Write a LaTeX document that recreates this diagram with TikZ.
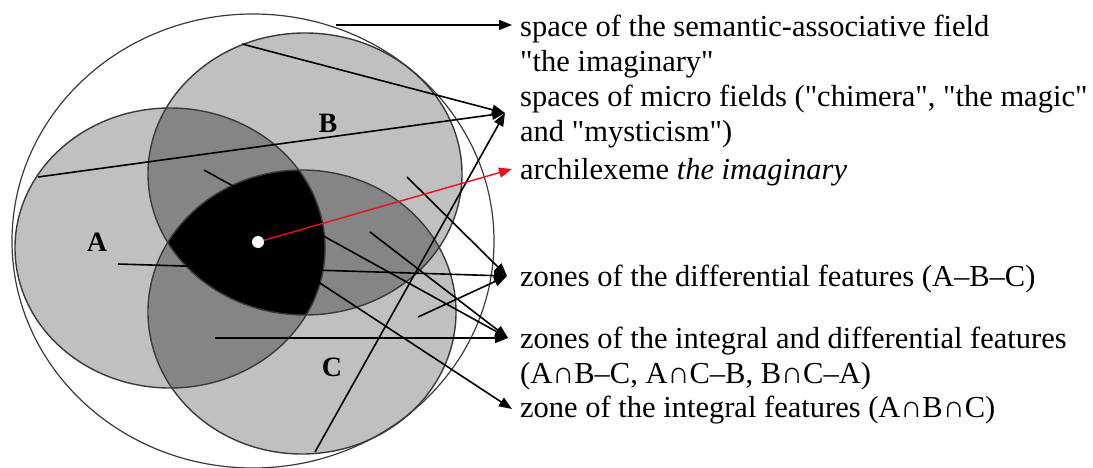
\documentclass[tikz,border=0pt]{standalone}
\usepackage{fontspec}
\setmainfont{Liberation Serif}[Ligatures=TeXOff]
\newfontfamily\letterfont{Liberation Serif}
\usetikzlibrary{arrows.meta}
\definecolor{lgray}{HTML}{C0C0C0}
\definecolor{dgray}{HTML}{858585}
\definecolor{edgecol}{HTML}{3A3A3A}
\definecolor{redarrow}{HTML}{E8101A}
\begin{document}
\begin{tikzpicture}[x=1pt,y=-1pt,
  conn/.style={line width=1.6pt, -{Triangle[length=13pt,width=10pt]}},
  lbl/.style={anchor=base west, align=left, inner sep=0pt, font=\fontsize{30.5}{35}\selectfont},
  letter/.style={font=\letterfont\fontsize{28}{30}\selectfont\bfseries, inner sep=0pt},
  outline/.style={draw=edgecol, line width=1.4pt}]
\useasboundingbox (0,0) rectangle (1093,468);
\def\ellA{(170,248) ellipse [x radius=155, y radius=140]}
\def\ellB{(305,174) ellipse [x radius=157, y radius=141]}
\def\ellC{(302,312) ellipse [x radius=154, y radius=142]}
% fills
\fill[lgray] \ellA;
\fill[lgray] \ellB;
\fill[lgray] \ellC;
\begin{scope}
  \clip \ellA;
  \fill[dgray] \ellB;
  \fill[dgray] \ellC;
\end{scope}
\begin{scope}
  \clip \ellB;
  \fill[dgray] \ellC;
\end{scope}
\begin{scope}
  \clip \ellA;
  \clip \ellB;
  \fill[black] \ellC;
\end{scope}
\draw[outline] \ellA;
\draw[outline] \ellB;
\draw[outline] \ellC;
\draw[outline, line width=1.2pt] (253,241) ellipse [x radius=241, y radius=227];
% set letters
\node[letter] (la) at (97,242) {A};
\node[letter] (lb) at (328,123) {B};
\node[letter] (lc) at (332,367) {C};
% labels
\node[lbl] (t1) at (520,72) {space of the semantic-associative field\\"the imaginary"};
\node[lbl] (t2) at (520,142) {spaces of micro fields ("chimera", "the magic"\\and "mysticism")};
\node[lbl] (t3) at (520,179) {archilexeme \textit{the imaginary}};
\node[lbl] (t4) at (520,286) {zones of the differential features (A–B–C)};
\node[lbl] (t5) at (520,383) {zones of the integral and differential features\\(A∩B–C, A∩C–B, B∩C–A)};
\node[lbl] (t6) at (520,417) {zone of the integral features (A∩B∩C)};
% coordinates
\coordinate (s1) at (336,25);  \coordinate (e1) at (512,25);
\coordinate (s2a) at (242,44); \coordinate (s2b) at (38,177); \coordinate (s2c) at (315,452);
\coordinate (e2) at (505,113);
\coordinate (e3) at (512,169);
\coordinate (s4a) at (407,177); \coordinate (s4b) at (118,264); \coordinate (s4c) at (418,317);
\coordinate (e4) at (507,276);
\coordinate (s5a) at (204,170); \coordinate (s5b) at (370,232); \coordinate (s5c) at (215,338);
\coordinate (e5) at (508,338);
\coordinate (s6) at (300,270); \coordinate (e6) at (512,409);
% connectors
\draw[conn] (s1) -- (e1);
\draw[conn] (s2a) -- (e2);
\draw[conn] (s2b) -- (e2);
\draw[conn] (s2c) -- (e2);
\draw[conn] (s4a) -- (e4);
\draw[conn] (s4b) -- (e4);
\draw[conn] (s4c) -- (e4);
\draw[conn] (s5a) -- (e5);
\draw[conn] (s5b) -- (e5);
\draw[conn] (s5c) -- (e5);
\draw[conn] (s6) -- (e6);
\node[circle, fill=white, inner sep=0pt, minimum size=12pt] (dot) at (258,242) {};
\draw[conn, draw=redarrow, fill=redarrow, line width=1.4pt] (dot) -- (e3);
\end{tikzpicture}
\end{document}
